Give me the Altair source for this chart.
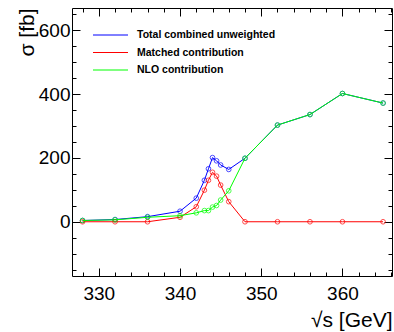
import altair as alt
import pandas as pd

# ---- data ----
energy = [328, 332, 336, 340, 342, 343, 343.5, 344, 344.5, 345, 346, 348, 352, 356, 360, 365]
total = [4, 7, 16, 33, 74, 130, 166, 201, 191, 178, 164, 199, 303, 336, 402, 372]
matched = [0, 0, 0, 14, 47, 99, 130, 155, 143, 115, 63, 0, 0, 0, 0, 0]
nlo = [4, 6, 14, 19, 28, 35, 35, 46, 51, 68, 97, 199, 303, 336, 402, 372]

series_names = ["Total combined unweighted", "Matched contribution", "NLO contribution"]
series_colors = ["#0000ff", "#ff0000", "#00ff00"]

x_major = [330, 340, 350, 360]
x_minor = [328, 332, 334, 336, 338, 342, 344, 346, 348, 352, 354, 356, 358, 362, 364, 366]
y_major = [0, 200, 400, 600]
y_minor = [-150, -100, -50, 50, 100, 150, 250, 300, 350, 450, 500, 550, 650]

x_title = "√s [GeV]"
y_title = "σ [fb]"

FONT = "Liberation Sans"
W, H = 320, 268

xs = alt.Scale(domain=[326.7, 366.1], nice=False, zero=False)
ys = alt.Scale(domain=[-170, 670], nice=False, zero=False)

df = pd.DataFrame({"energy": energy, "total": total, "matched": matched, "nlo": nlo})
one = pd.DataFrame({"energy": [energy[0]], "total": [total[0]]})


def series_layers(col, color):
    base = alt.Chart(df)
    enc = dict(
        x=alt.X("energy:Q", scale=xs, axis=None),
        y=alt.Y(f"{col}:Q", scale=ys, axis=None),
    )
    line = base.mark_line(color=color, strokeWidth=1).encode(**enc)
    pts = base.mark_point(shape="circle", filled=False, color=color, size=22, strokeWidth=1).encode(**enc)
    return [line, pts]


def axis_layer(xaxis=None, yaxis=None):
    return alt.Chart(one).mark_point(opacity=0).encode(
        x=alt.X("energy:Q", scale=xs, axis=xaxis),
        y=alt.Y("total:Q", scale=ys, axis=yaxis),
    )


common = dict(grid=False, domain=False, title=None, tickColor="black", tickWidth=1)

layers = []
# axes: major with labels (bottom/left), minor, mirrored (top/right)
layers.append(axis_layer(
    xaxis=alt.Axis(orient="bottom", values=x_major, offset=-8, tickSize=8, labels=True,
                   labelFont=FONT, labelFontSize=19, labelColor="black", labelPadding=8, **common)))
layers.append(axis_layer(
    xaxis=alt.Axis(orient="bottom", values=x_minor, offset=-4, tickSize=4, labels=False, **common)))
layers.append(axis_layer(
    xaxis=alt.Axis(orient="top", values=x_major, offset=-8, tickSize=8, labels=False, **common)))
layers.append(axis_layer(
    xaxis=alt.Axis(orient="top", values=x_minor, offset=-4, tickSize=4, labels=False, **common)))
layers.append(axis_layer(
    yaxis=alt.Axis(orient="left", values=y_major, offset=-8, tickSize=8, labels=True,
                   labelFont=FONT, labelFontSize=19, labelColor="black", labelPadding=2, **common)))
layers.append(axis_layer(
    yaxis=alt.Axis(orient="left", values=y_minor, offset=-4, tickSize=4, labels=False, **common)))
layers.append(axis_layer(
    yaxis=alt.Axis(orient="right", values=y_major, offset=-8, tickSize=8, labels=False, **common)))
layers.append(axis_layer(
    yaxis=alt.Axis(orient="right", values=y_minor, offset=-4, tickSize=4, labels=False, **common)))
# titles
layers.append(axis_layer(
    xaxis=alt.Axis(orient="bottom", ticks=False, labels=False, domain=False, grid=False,
                   title=x_title, titleFont=FONT, titleFontSize=21, titleFontWeight="normal",
                   titleColor="black", titleX=W, titleY=50, titleAlign="right",
                   titleBaseline="alphabetic", titleAngle=0)))
layers.append(axis_layer(
    yaxis=alt.Axis(orient="left", ticks=False, labels=False, domain=False, grid=False,
                   title=y_title, titleFont=FONT, titleFontSize=21, titleFontWeight="normal",
                   titleColor="black", titleX=-39, titleY=0, titleAlign="right",
                   titleBaseline="alphabetic", titleAngle=270)))

# data series (blue, red, green drawn in that order)
layers += series_layers("total", series_colors[0])
layers += series_layers("matched", series_colors[1])
layers += series_layers("nlo", series_colors[2])

# legend
leg_y = [27, 44.5, 62]
for name, color, yy in zip(series_names, series_colors, leg_y):
    ldf = pd.DataFrame({"name": [name]})
    layers.append(alt.Chart(ldf).mark_rule(color=color, strokeWidth=1).encode(
        x=alt.value(21), x2=alt.value(56), y=alt.value(yy)))
    layers.append(alt.Chart(ldf).mark_text(
        font=FONT, fontSize=10.5, fontWeight="bold", color="black",
        align="left", baseline="middle").encode(
        text=alt.Text("name:N"), x=alt.value(65), y=alt.value(yy)))

chart = alt.layer(*layers).resolve_axis(x="independent", y="independent").properties(
    width=W, height=H,
    autosize=alt.AutoSizeParams(type="none"),
    padding={"left": 72, "top": 8, "right": 2, "bottom": 56},
    background="white",
).configure_view(stroke="black", strokeWidth=1)

chart.save("out.html", embed_options={"renderer": "svg", "actions": False})
